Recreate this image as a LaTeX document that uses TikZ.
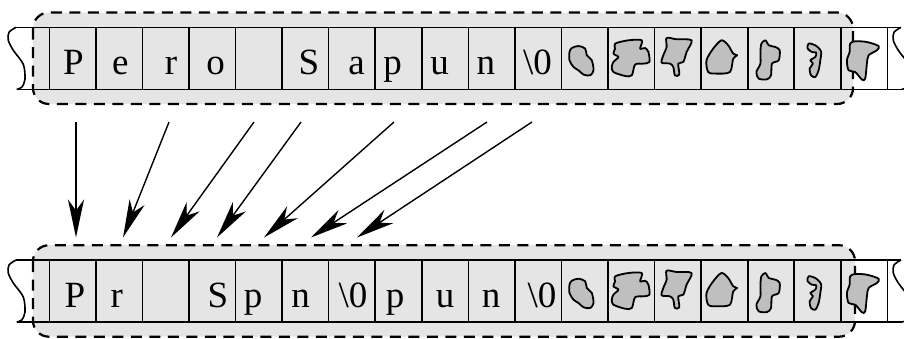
\documentclass[tikz,border=0pt]{standalone}
\usepackage{fontspec}
\setmainfont{Liberation Serif}
\usetikzlibrary{arrows.meta}
\definecolor{boxfill}{gray}{0.9}
\definecolor{blobfill}{gray}{0.75}
\tikzset{
  cellline/.style={line width=1.6pt},
  bordline/.style={line width=2.2pt, dash pattern=on 11pt off 7.5pt, rounded corners=16pt},
  blobline/.style={line width=1.8pt, fill=blobfill, line join=round},
  letter/.style={anchor=base, inner sep=0pt, font=\fontsize{37}{40}\selectfont},
  move/.style={line width=1.4pt, -{Stealth[length=38pt,width=16pt,inset=11pt]}},
  blobone/.pic={\draw[blobline] plot[smooth cycle] coordinates {(10.3,20.7) (17,18.7) (23.7,21.3) (25.3,28) (30.3,33) (32,43) (28.7,48) (22,47.3) (17,43) (12,39.7) (8,33) (8,24.7)};},
  blobtwo/.pic={\draw[blobline] plot[smooth cycle] coordinates {(7,16.3) (20.3,13) (33.7,13) (32,21.3) (37,20.7) (40.3,24.7) (41.3,34.7) (35.3,36.3) (27,37.3) (23.7,48) (17,48.7) (5.3,44.7) (3.7,39.7) (5.3,34.7) (10.3,29.7) (5.3,26.3) (7,21.3)};},
  blobthree/.pic={\draw[blobline] plot[smooth cycle] coordinates {(12,10.7) (22,12) (37,13) (32,24.7) (28.7,34.7) (23.7,36.3) (24.7,47.3) (20.3,48) (18.7,39.7) (15.3,36.3) (7,35.3) (8.7,28) (12,19.7)};},
  blobfour/.pic={\draw[blobline] plot[smooth cycle] coordinates {(20.3,13) (27,18) (32,26.3) (36,28) (32,31.3) (28.7,44.7) (15.3,46.3) (7,44.7) (5.3,33) (12,21.3)};},
  blobfive/.pic={\draw[blobline] plot[smooth cycle] coordinates {(17.7,13) (21,18) (27.7,19.7) (32,23) (31,33) (24.3,36.3) (23.3,48) (19.3,52) (11,51.3) (8.7,44.7) (12.7,36.3) (12.7,24.7) (13.7,16.3)};},
  blobsix/.pic={\draw[blobline] plot[smooth cycle] coordinates {(14.3,16.3) (21,18) (26.7,24) (26,33) (24.3,43) (21,49.7) (16.7,48) (15.3,41.3) (18.7,36.3) (16,33) (21,29.7) (22,25.3) (17.7,24.7) (13.3,21.3)};},
  blobseven/.pic={\draw[blobline] plot[smooth cycle] coordinates {(9.3,16.3) (14.3,14) (26,14.7) (37.7,18.7) (36,23) (27.7,28) (26,36.3) (24.3,51.3) (21,52.3) (14.3,44.7) (7.7,43) (6,33) (8.7,24.7)};}
}
\newcommand\TapeRow[2]{%
  \begin{scope}[shift={(0,#1)}]
    \fill[boxfill, rounded corners=16pt] (33,-14.8) rectangle (#2,76.7);
    \draw[cellline] plot[smooth] coordinates {(16,0) (9,5) (8.3,13) (13.3,23) (23.3,37) (25,52) (21.7,60) (16.7,62)};
    \draw[cellline] plot[smooth] coordinates {(901,0) (894,5) (893.3,13) (898.3,23) (908.3,37) (910,52) (906.7,60) (901.7,62)};
    \draw[cellline] (16,0) -- (901,0) (16.7,62) -- (901.7,62);
    \foreach \k in {0,...,18} \draw[cellline] ({49.3+46.56*\k},0) -- ({49.3+46.56*\k},62);
    \draw[bordline] (33,-14.8) rectangle (#2,76.7);
    \pic at (561.5,0) {blobone};
    \pic at (608.1,0) {blobtwo};
    \pic at (654.6,0) {blobthree};
    \pic at (701.2,0) {blobfour};
    \pic at (747.7,0) {blobfive};
    \pic at (794.3,0) {blobsix};
    \pic at (840.9,0) {blobseven};
  \end{scope}}
\begin{document}
\begin{tikzpicture}[x=1pt,y=-1pt]
\useasboundingbox (0,0) rectangle (904,338);
\clip (0,0) rectangle (904,338);
\TapeRow{27.3}{853}
\TapeRow{260}{855}
% top row text
\node[letter] (a1) at (73.3,74) {P};
\node[letter] (a2) at (120.4,74) {e};
\node[letter] (a3) at (171,74) {r};
\node[letter] (a4) at (215.7,74) {o};
\node[letter] (a6) at (309,74) {S};
\node[letter] (a7) at (356.7,74) {a};
\node[letter] (a8) at (392.7,74) {p};
\node[letter] (a9) at (439.7,74) {u};
\node[letter] (a10) at (485.8,74) {n};
\node[letter] (a11) at (537.5,74) {\textbackslash 0};
% bottom row text
\node[letter] (b1) at (75,307.3) {P};
\node[letter] (b2) at (116.7,307.3) {r};
\node[letter] (b4) at (218,307.3) {S};
\node[letter] (b5) at (253,307.3) {p};
\node[letter] (b6) at (300.5,307.3) {n};
\node[letter] (b7) at (353,307.3) {\textbackslash 0};
\node[letter] (b8) at (395,307.3) {p};
\node[letter] (b9) at (445,307.3) {u};
\node[letter] (b10) at (491,307.3) {n};
\node[letter] (b11) at (542,307.3) {\textbackslash 0};
% arrows
\coordinate (s1) at (76,122);  \coordinate (e1) at (76,237.5);
\coordinate (s2) at (169,122); \coordinate (e2) at (123,237.5);
\coordinate (s3) at (254,122); \coordinate (e3) at (171,237.5);
\coordinate (s4) at (301,122); \coordinate (e4) at (217,237.5);
\coordinate (s5) at (394,122); \coordinate (e5) at (264,237.5);
\coordinate (s6) at (487,122); \coordinate (e6) at (311,237.5);
\coordinate (s7) at (532,122); \coordinate (e7) at (357,237.5);
\foreach \i in {1,...,7} \draw[move] (s\i) -- (e\i);
\end{tikzpicture}
\end{document}
